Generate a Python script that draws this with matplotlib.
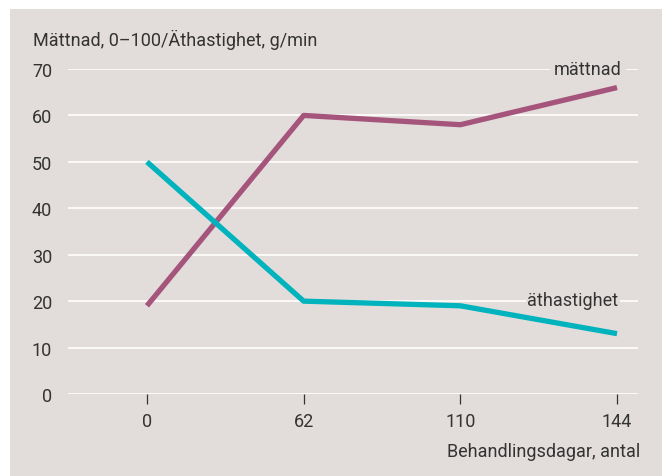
import matplotlib
matplotlib.use("Agg")
import matplotlib.pyplot as plt
from matplotlib.patches import Rectangle

# treatment days (shown as evenly spaced categories)
days = ["0", "62", "110", "144"]
mattnad = [19, 60, 58, 66]
athastighet = [50, 20, 19, 13]
yticks = [0, 10, 20, 30, 40, 50, 60, 70]

bg = "#e2dddb"
txt = "#333333"
purple = "#a5557b"
teal = "#00b3bc"
fs = 13

plt.rcParams["font.family"] = ["Roboto", "DejaVu Sans"]

W, H = 662, 477
fig = plt.figure(figsize=(W / 100, H / 100), dpi=100, facecolor="white")

# shaded panel behind the chart, leaving a thin white margin top and left
fig.patches.append(Rectangle((10 / W, 0), 1, (H - 10) / H, transform=fig.transFigure,
                             facecolor=bg, edgecolor="none", zorder=-10))

ax = fig.add_axes([68 / W, (H - 395) / H, (638 - 68) / W, (395 - 70) / H])
ax.patch.set_visible(False)

xs = list(range(len(days)))
ax.plot(xs, mattnad, color=purple, lw=3.8, solid_capstyle="butt", zorder=3, clip_on=False)
ax.plot(xs, athastighet, color=teal, lw=3.8, solid_capstyle="butt", zorder=3, clip_on=False)

ax.set_xlim(-0.504, 3.134)
ax.set_ylim(0, 70)
ax.set_yticks(yticks)
ax.set_xticks(xs)
ax.set_xticklabels(days)
ax.grid(axis="y", color="white", lw=1.2, zorder=1)
ax.set_axisbelow(True)
for s in ax.spines.values():
    s.set_visible(False)

ax.tick_params(axis="y", length=0, pad=11.5, labelsize=fs, labelcolor=txt)
ax.tick_params(axis="x", length=7, width=0.9, color=txt, pad=6, labelsize=fs, labelcolor=txt)

# series labels sit on a patch of background so the gridline stops short of them
ax.text(3.03, 70, "mättnad", ha="right", va="center", fontsize=fs, color=txt, zorder=4,
        bbox=dict(facecolor=bg, edgecolor="none", pad=3))
ax.text(3.01, 20.3, "äthastighet", ha="right", va="center", fontsize=fs, color=txt, zorder=4,
        bbox=dict(facecolor=bg, edgecolor="none", pad=1))

fig.text(33 / W, (H - 40) / H, "Mättnad, 0–100/Äthastighet, g/min", ha="left", va="center",
         fontsize=fs, color=txt)
fig.text(640 / W, (H - 452) / H, "Behandlingsdagar, antal", ha="right", va="center",
         fontsize=fs, color=txt)

fig.savefig("out.png", dpi=100, facecolor="white")
